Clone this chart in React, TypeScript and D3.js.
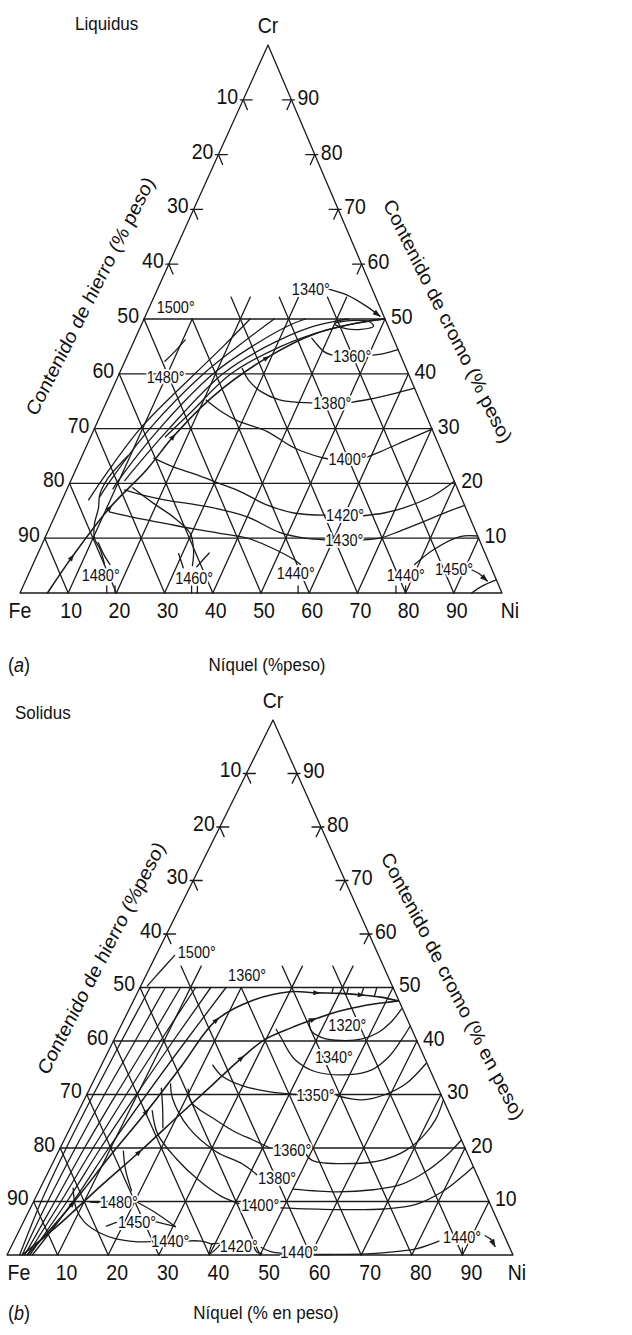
import React from "react";
import * as d3 from "d3";

type TP = [number, number]; // [Ni wt%, Cr wt%]

// ---------- axis values ----------
const baseTicks = [10, 20, 30, 40, 50, 60, 70, 80, 90];
const sideTicks = [10, 20, 30, 40, 50, 60, 70, 80, 90];
const markedLevels = [60, 70, 80, 90];
const gridLevels = [10, 20, 30, 40, 50];

// ---------- (a) liquidus ----------
const liqValley: TP[] = [[5.7, 0], [7.4, 6.5], [10.6, 15.5], [14.7, 22.5], [17.1, 28.5], [21.6, 35.9], [29.1, 42.9], [37.1, 47.4], [46.4, 49.6], [49.7, 50]];
const liqValleyArrows = [1, 2, 4, 6];
const liqBundle: TP[][] = [
  [[5.5, 17], [6.5, 21], [9.5, 30], [15.7, 40], [19, 45], [22, 50]],
  [[7.5, 17.5], [8.2, 20.5], [11.5, 30], [17.5, 40], [22, 45], [27, 50]],
  [[9.5, 19], [10, 21], [13.5, 30], [19.5, 40], [25, 45], [31, 49], [33.5, 50]],
  [[11.2, 20.5], [12, 22.5], [15.5, 30], [21.5, 40], [28, 45], [35, 48.4], [40, 49.6], [42.5, 50]],
  [[15.5, 28.5], [18.5, 33], [23.2, 40], [31, 45], [39, 48], [45, 49.3], [50, 50]],
];
const liqLoop: TP[] = [[40, 49.1], [42.5, 48.3], [46, 48.1], [48.3, 48.7], [47, 49.5], [43, 49.7]];
const liqIsotherms: TP[][] = [
  [[8.3, 42.3], [9.4, 44], [10.5, 46.2]],
  [[36.6, 46.5], [38.5, 45.2], [40.5, 44], [42.4, 43.4]],
  [[50.9, 43.4], [53, 43.7], [55.6, 44.4]],
  [[25, 41], [27.5, 38.8], [31, 36.8], [35.5, 35.3], [40, 34.8], [42.7, 34.7]],
  [[50.9, 34.8], [54.5, 35.4], [58.5, 36.3], [62.6, 37.4]],
  [[20.5, 35.2], [24.5, 33.2], [29, 31.4], [36, 29.5], [43.2, 26.5], [49.9, 24.7], [51.2, 24.5]],
  [[59.2, 24.8], [61.5, 25.8], [65.5, 27.7], [70.1, 29.9]],
  [[15.1, 24.6], [20, 23], [25.8, 21.5], [31, 20], [35.9, 18.6], [42.9, 16.1], [49.3, 14.6], [56, 14.2]],
  [[64, 14.1], [68, 14.6], [71.5, 15.5], [76.5, 17.7], [79.6, 20.4]],
  [[12, 18.8], [16.5, 17.8], [21.2, 17], [31.1, 15.7], [40, 13.9], [48.3, 11], [54, 10], [58.2, 9.7]],
  [[66.2, 9.7], [69.5, 10], [73, 11.3], [77, 13], [81, 14.8], [84, 16]],
  [[10.9, 14.8], [17, 13.7], [23.5, 12.7], [30, 11.7], [35.8, 10.9], [42, 10], [47.5, 8.4], [53.7, 6.1], [55.5, 5.2]],
  [[13.5, 19.2], [19.2, 16.4], [25, 13.7], [29.7, 10.9], [32, 7.8], [33.2, 5]],
  [[29.2, 7.2], [31.5, 4.6]],
  [[35.5, 7.3], [34.2, 4.8]],
  [[9.5, 25], [7.5, 21], [7.3, 18], [8.3, 15.5], [9, 12.5], [10.3, 10], [12.5, 8], [14.8, 5.3]],
  [[11.5, 9.2], [13.8, 7], [16, 5.2]],
  [[79.2, 5.2], [81.7, 7.9], [86, 10.3], [89.6, 10.4]],
  [[93.7, 0], [95.3, 1.3], [97.6, 2.4]],
];
const liqLeaders: TP[][] = [
  [[34.8, 55.6], [39.8, 54.4], [45, 52.3], [48.7, 50.5]],
  [[91.6, 4.2], [93.5, 3.5], [95.8, 2.2]],
];
const liqLabels: [string, TP][] = [
  ["1500°", [1.5, 52.2]], ["1480°", [6.0, 39.4]], ["1340°", [27.9, 55.4]],
  ["1360°", [42.7, 43.3]], ["1380°", [43, 34.7]], ["1400°", [51.4, 24.5]],
  ["1420°", [56.2, 14.2]], ["1430°", [58.4, 9.6]], ["1480°", [11.1, 3.3]],
  ["1460°", [30.8, 2.7]], ["1440°", [51.4, 3.6]], ["1440°", [74.4, 3.3]],
  ["1450°", [83.9, 4.3]],
];
const liqCrossMarks = [20, 30, 40];
const liqBaseTicks = [18, 19.7, 35.6, 36.8, 57.7, 78, 80];

// ---------- (b) solidus ----------
const solUpper: TP[] = [[4, 0], [7.9, 9.6], [10.6, 18.4], [13.5, 26.8], [15.9, 35.3], [18.3, 43.9], [23.6, 47.6], [30, 49.2], [35.4, 49], [40, 48.9], [44.4, 48.6], [48.5, 48.2], [52.3, 47.5]];
const solUpperArrows = [1, 3, 5, 8, 10];
const solLower: TP[] = [[3, 0], [7.5, 6], [11.5, 12.5], [16, 19.2], [20.5, 26.5], [24, 32], [27, 36.8], [29.8, 40.3], [33.9, 42.5], [37.4, 44], [41.8, 45.6], [46, 46.6], [50, 47.2], [52.3, 47.5]];
const solLowerArrows = [3, 6, 9];
const solFan: TP[][] = [
  [[2.5, 0], [1.5, 10], [1.2, 20], [1.3, 30], [1.6, 40], [2, 50]],
  [[3, 0], [2.8, 10], [3, 20], [3.5, 30], [4.3, 40], [5, 50]],
  [[3.5, 0], [4.2, 10], [4.8, 20], [5.8, 30], [7, 40], [8, 50]],
  [[4, 0], [5.4, 10], [6.5, 20], [7.8, 30], [9.3, 40], [11, 50]],
  [[4.5, 0], [6.6, 10], [8, 20], [9.8, 30], [11.8, 40], [14, 50]],
  [[5, 0], [7.8, 10], [9.6, 20], [11.8, 30], [14.3, 40], [17, 50]],
];
const solIsotherms: TP[][] = [
  [[3.7, 56], [2.4, 53], [1.3, 50.3]],
  [[36.5, 44.2], [38, 42], [41, 40.6], [45, 40.1], [49, 40.4], [51.5, 41.6], [53, 43.5], [53.8, 46]],
  [[31, 42.2], [33.4, 40.1], [35.5, 38.2], [37.9, 36.4], [42.8, 34.3], [49.8, 33.7], [53.9, 34.6], [56, 37.1], [56.8, 40.1], [57.2, 42.8]],
  [[22, 35.5], [25, 33.4], [30, 31.6], [36, 30.5], [41.3, 30]],
  [[49.5, 29.8], [55, 29], [59, 30], [62, 32], [64, 35.8]],
  [[19.5, 31], [21.5, 28.5], [28.1, 25.2], [33, 23], [37.3, 21.5], [41.5, 20]],
  [[49, 19], [51, 17.7], [59.4, 17.1], [65, 17.8], [68.5, 19.5], [70.7, 22.5], [71.4, 25.5], [71, 29]],
  [[15.5, 32], [17.3, 29.3], [23.4, 23.8], [31, 19.4], [37.6, 17], [41.5, 15]],
  [[50, 12.3], [59, 11.8], [66, 12.2], [71, 13.2], [74.5, 15.5], [77, 18.5], [78.5, 21.5]],
  [[14.5, 27], [18, 22.5], [24, 18], [30.5, 14], [36.5, 11], [40.8, 9.6]],
  [[49.5, 8.8], [60, 8.5], [70, 8.6], [76, 9.5], [80, 12], [82.5, 15], [83.5, 16.5]],
  [[12.8, 19.4], [15, 16], [18.3, 12]],
  [[14.1, 31.2], [16.3, 27.5], [18.3, 23.8]],
  [[11.2, 9.9], [13, 9.8]],
  [[20.2, 10], [25, 8], [30.5, 5.3]],
  [[16.8, 5.4], [18.4, 6.1]],
  [[25.8, 6.3], [30.5, 5.3]],
  [[6.5, 12.5], [9, 8.8], [12, 6.2], [16, 4.2], [20, 3], [24, 2.5], [27, 2.5]],
  [[33.6, 2.6], [37, 2.6], [39.5, 2]],
  [[39.4, 2.1], [41, 2.1], [39.9, 0.2], [39.4, 2.1]],
  [[47.8, 1.8], [49, 0.6], [50.3, 0.2]],
  [[49.5, 1.4], [52, 0.6], [57.8, 0.15], [64.4, 0.1], [71, 0.2], [76, 0.6], [80.4, 1.2], [84, 2.6]],
  // short hatching between the valley and the 50 % Cr line
  [[38.5, 48.9], [38.2, 50]],
  [[41.5, 48.75], [41.2, 50]],
  [[44.5, 48.6], [44.2, 50]],
  [[47.2, 48.3], [46.8, 50]],
];
const solLeaders: TP[][] = [
  [[92.6, 3.6], [94.3, 2.8], [95.6, 1.6]],
];
const solLabels: [string, TP][] = [
  ["1500°", [4, 56.6]], ["1360°", [16.2, 52.3]], ["1320°", [40.9, 43]],
  ["1340°", [41.4, 37]], ["1350°", [41.5, 29.9]], ["1360°", [42.3, 19.6]],
  ["1380°", [42.1, 14.3]], ["1400°", [41.4, 9.3]], ["1480°", [13.2, 9.8]],
  ["1450°", [18.7, 6.2]], ["1440°", [27.2, 2.5]], ["1420°", [41.2, 1.6]],
  ["1440°", [53.7, 0.6]], ["1440°", [84.4, 3.4]],
];
const solCrossMarks = [10, 30, 40];
const solBaseTicks = [90];

// ---------- layout ----------
const FONT = "'Liberation Sans', Arial, Helvetica, sans-serif";
const INK = "#1b1b1b";
const SY = 1.12; // glyphs are set slightly taller than wide

type Geo = {
  fe: [number, number]; ni: [number, number]; cr: [number, number];
  baseDx: number; feDx: number; niDx: number; captionDy: number; titleX: number; titleDy: number;
};

type PanelData = {
  valleys: { pts: TP[]; arrows: number[] }[];
  fans: TP[][];
  loop?: TP[];
  isotherms: TP[][];
  leaders: TP[][];
  labels: [string, TP][];
  crossMarks: number[];
  baseTicks: number[];
};

type TProps = {
  x: number; y: number; size: number; anchor?: "start" | "middle" | "end";
  rotate?: number; children: React.ReactNode; halo?: boolean;
};

function T({ x, y, size, anchor = "start", rotate = 0, children, halo }: TProps) {
  return (
    <text
      transform={`translate(${x},${y}) scale(1,${SY}) rotate(${rotate})`}
      fontSize={size}
      fontFamily={FONT}
      fill="#111"
      textAnchor={anchor}
      dominantBaseline="central"
      stroke={halo ? "#fff" : undefined}
      strokeWidth={halo ? 3.5 : undefined}
      paintOrder={halo ? "stroke" : undefined}
      strokeLinejoin="round"
    >
      {children}
    </text>
  );
}

function Panel({ geo, data, title, caption, tag, leftTitle, rightTitle }: {
  geo: Geo; data: PanelData; title: string; caption: string; tag: string;
  leftTitle: { text: string; x: number; y: number; a: number };
  rightTitle: { text: string; x: number; y: number; a: number };
}) {
  const xNi = d3.scaleLinear().domain([0, 100]).range([geo.fe[0], geo.ni[0]]);
  const xShear = d3.scaleLinear().domain([0, 100]).range([0, geo.cr[0] - geo.fe[0]]);
  const yCr = d3.scaleLinear().domain([0, 100]).range([geo.fe[1], geo.cr[1]]);
  const P = (t: TP): [number, number] => [xNi(t[0]) + xShear(t[1]), yCr(t[1])];
  const smooth = d3.line<TP>().x((d) => P(d)[0]).y((d) => P(d)[1]).curve(d3.curveCatmullRom.alpha(0.5));
  const straight = d3.line<TP>().x((d) => P(d)[0]).y((d) => P(d)[1]);
  const closed = d3.line<TP>().x((d) => P(d)[0]).y((d) => P(d)[1]).curve(d3.curveCatmullRomClosed.alpha(0.5));

  const arrowAt = (c: [number, number], a: [number, number], b: [number, number], size = 7) => {
    const dx = b[0] - a[0], dy = b[1] - a[1];
    const L = Math.hypot(dx, dy) || 1;
    const ux = dx / L, uy = dy / L;
    const tip = [c[0] + ux * size * 0.55, c[1] + uy * size * 0.55];
    const bk = [c[0] - ux * size * 0.45, c[1] - uy * size * 0.45];
    const w = size * 0.36;
    return `M${tip[0]},${tip[1]}L${bk[0] - uy * w},${bk[1] + ux * w}L${bk[0] + uy * w},${bk[1] - ux * w}Z`;
  };

  // grid segments
  const grid: TP[][] = [];
  gridLevels.forEach((c) => grid.push([[0, c], [100 - c, c]]));
  baseTicks.forEach((n) => {
    const top = data.crossMarks.includes(n) ? 54 : Math.min(50, 100 - n);
    grid.push([[n, 0], [n, top]]);
  });
  baseTicks.forEach((f) => {
    const n0 = 100 - f;
    const crossN = 50 - f;
    const top = data.crossMarks.includes(crossN) ? 54 : Math.min(50, 100 - f);
    grid.push([[n0, 0], [n0 - top, top]]);
  });

  const sideMarks: string[] = [];
  markedLevels.forEach((c) => {
    const L = P([0, c]);
    sideMarks.push(`M${L[0] - 3},${L[1]}H${L[0] + 9}`);
    const L2 = P([1.8, c - 1.8]);
    sideMarks.push(`M${L[0]},${L[1]}L${L2[0]},${L2[1]}`);
    const R = P([100 - c, c]);
    sideMarks.push(`M${R[0] - 9},${R[1]}H${R[0] + 3}`);
    const R2 = P([100 - c, c - 1.8]);
    sideMarks.push(`M${R[0]},${R[1]}L${R2[0]},${R2[1]}`);
  });

  const apex = P([0, 100]);
  const feP = P([0, 0]);
  const niP = P([100, 0]);

  return (
    <g>
      <T x={geo.titleX} y={apex[1] + geo.titleDy} size={17}>{title}</T>
      <T x={apex[0]} y={apex[1] - 20} size={19.5} anchor="middle">Cr</T>

      <g stroke={INK} strokeWidth={1.3} fill="none" strokeLinecap="round">
        <path d={straight([[0, 0], [100, 0], [0, 100], [0, 0]]) + "Z"} strokeLinejoin="round" />
        {grid.map((s, i) => <path key={"g" + i} d={straight(s)!} />)}
        {sideMarks.map((d, i) => <path key={"m" + i} d={d} />)}
        {data.baseTicks.map((n, i) => {
          const b = P([n, 0]);
          return <path key={"bt" + i} d={`M${b[0]},${b[1]}V${b[1] - 7}`} />;
        })}
        {data.fans.map((s, i) => <path key={"f" + i} d={smooth(s)!} />)}
        {data.isotherms.map((s, i) => <path key={"i" + i} d={smooth(s)!} />)}
        {data.leaders.map((s, i) => <path key={"l" + i} d={smooth(s)!} />)}
        {data.loop && <path d={closed(data.loop)!} />}
        {data.valleys.map((v, i) => <path key={"v" + i} d={smooth(v.pts)!} strokeWidth={1.6} />)}
      </g>

      <g fill={INK}>
        {data.valleys.map((v, i) => v.arrows.map((k) => (
          <path key={`a${i}-${k}`} d={arrowAt(P(v.pts[k]), P(v.pts[k - 1]), P(v.pts[k + 1]))} />
        )))}
        {data.leaders.map((s, i) => {
          const n = s.length;
          const a = P(s[n - 2]), b = P(s[n - 1]);
          const dx = b[0] - a[0], dy = b[1] - a[1];
          const L = Math.hypot(dx, dy);
          const c: [number, number] = [b[0] - (dx / L) * 3.5, b[1] - (dy / L) * 3.5];
          return <path key={"la" + i} d={arrowAt(c, a, b, 8)} />;
        })}
      </g>

      {data.labels.map(([t, p], i) => {
        const q = P(p);
        return <T key={"t" + i} x={q[0]} y={q[1]} size={14.5} halo>{t}</T>;
      })}

      {sideTicks.map((fe) => {
        const q = P([0, 100 - fe]);
        return <T key={"lt" + fe} x={q[0] - 5} y={q[1] - 4} size={19.5} anchor="end">{fe}</T>;
      })}
      {sideTicks.map((c) => {
        const q = P([100 - c, c]);
        return <T key={"rt" + c} x={q[0] + 6} y={q[1] - 3} size={19.5}>{c}</T>;
      })}
      {baseTicks.map((n) => {
        const q = P([n, 0]);
        return <T key={"bl" + n} x={q[0] + geo.baseDx} y={q[1] + 17} size={19.5} anchor="middle">{n}</T>;
      })}
      <T x={feP[0] + geo.feDx} y={feP[1] + 17} size={19.5} anchor="middle">Fe</T>
      <T x={niP[0] + geo.niDx} y={niP[1] + 17} size={19.5} anchor="middle">Ni</T>

      <T x={leftTitle.x} y={leftTitle.y} size={18.5} anchor="middle" rotate={leftTitle.a}>{leftTitle.text}</T>
      <T x={rightTitle.x} y={rightTitle.y} size={18.5} anchor="middle" rotate={rightTitle.a}>{rightTitle.text}</T>

      <T x={8} y={feP[1] + geo.captionDy} size={18}>(<tspan fontStyle="italic">{tag}</tspan>)</T>
      <T x={(feP[0] + niP[0]) / 2 + 6} y={feP[1] + geo.captionDy} size={17} anchor="middle">{caption}</T>
    </g>
  );
}

export default function App() {
  const liq: PanelData = {
    valleys: [{ pts: liqValley, arrows: liqValleyArrows }],
    fans: liqBundle,
    loop: liqLoop,
    isotherms: liqIsotherms,
    leaders: liqLeaders,
    labels: liqLabels,
    crossMarks: liqCrossMarks,
    baseTicks: liqBaseTicks,
  };
  const sol: PanelData = {
    valleys: [{ pts: solUpper, arrows: solUpperArrows }, { pts: solLower, arrows: solLowerArrows }],
    fans: solFan,
    isotherms: solIsotherms,
    leaders: solLeaders,
    labels: solLabels,
    crossMarks: solCrossMarks,
    baseTicks: solBaseTicks,
  };
  return (
    <svg width={632} height={1335} style={{ position: "absolute", left: 0, top: 0, background: "#fff" }}>
      <rect width={632} height={1335} fill="#fff" />
      <Panel
        geo={{ fe: [20, 593], ni: [502, 593], cr: [268, 45], baseDx: 3, feDx: 0, niDx: 8, captionDy: 72, titleX: 75, titleDy: -21 }}
        data={liq}
        title="Liquidus"
        caption="Níquel (%peso)"
        tag="a"
        leftTitle={{ text: "Contenido de hierro (% peso)", x: 90, y: 296, a: -60.5 }}
        rightTitle={{ text: "Contenido de cromo (% peso)", x: 448, y: 321, a: 61 }}
      />
      <Panel
        geo={{ fe: [7, 1255], ni: [513, 1255], cr: [273, 720], baseDx: 9, feDx: 12, niDx: 4, captionDy: 58, titleX: 15, titleDy: -7 }}
        data={sol}
        title="Solidus"
        caption="Níquel (% en peso)"
        tag="b"
        leftTitle={{ text: "Contenido de hierro (%peso)", x: 101, y: 958, a: -60 }}
        rightTitle={{ text: "Contenido de cromo (% en peso)", x: 453, y: 986, a: 60.5 }}
      />
    </svg>
  );
}
